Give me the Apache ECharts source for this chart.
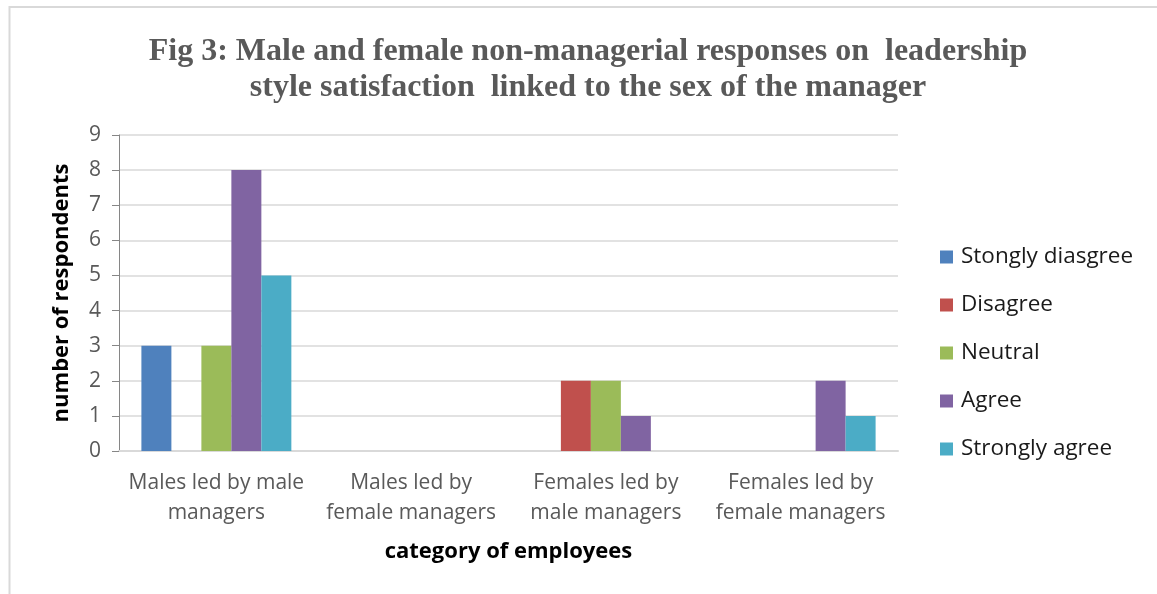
<!DOCTYPE html>
<html>
<head>
<meta charset="utf-8">
<script src="https://cdn.jsdelivr.net/npm/echarts@6/dist/echarts.min.js"></script>
<style>
  html, body { margin: 0; padding: 0; background: #fff; }
  #chart { width: 1157px; height: 594px; }
</style>
</head>
<body>
<div id="chart"></div>
<script>
// Employee groups along the x axis
const categories = [
  'Males led by male\nmanagers',
  'Males led by\nfemale managers',
  'Females led by\nmale managers',
  'Females led by\nfemale managers'
];

// Response counts per group
const stronglyDisagree = [3, 0, 0, 0];
const disagree = [0, 0, 2, 0];
const neutral = [3, 0, 2, 0];
const agree = [8, 0, 1, 2];
const stronglyAgree = [5, 0, 0, 1];

const seriesNames = ['Stongly diasgree', 'Disagree', 'Neutral', 'Agree', 'Strongly agree'];
const seriesData = [stronglyDisagree, disagree, neutral, agree, stronglyAgree];
const seriesColors = ['#4f81bd', '#c0504d', '#9bbb59', '#8064a2', '#4bacc6'];

const yTicks = { min: 0, max: 9, interval: 1 };

const chart = echarts.init(document.getElementById('chart'), null, { renderer: 'canvas' });

const uiFont = '"Open Sans", "Liberation Sans", sans-serif';

chart.setOption({
  animation: false,
  backgroundColor: '#ffffff',
  title: {
    text: 'Fig 3: Male and female non-managerial responses on  leadership\nstyle satisfaction  linked to the sex of the manager',
    left: 588,
    textAlign: 'center',
    top: 34,
    padding: 0,
    textStyle: {
      fontFamily: '"Liberation Serif", "Times New Roman", serif',
      fontWeight: 'bold',
      fontSize: 32,
      lineHeight: 36,
      color: '#595959'
    }
  },
  legend: {
    orient: 'vertical',
    left: 940,
    top: 245,
    padding: 0,
    itemWidth: 13,
    itemHeight: 13,
    itemGap: 24,
    icon: 'rect',
    data: seriesNames,
    textStyle: {
      fontFamily: uiFont,
      fontSize: 22.5,
      lineHeight: 24,
      color: '#1a1a1a',
      padding: [0, 0, 0, 3]
    }
  },
  grid: {
    left: 119,
    right: 259,
    top: 135,
    bottom: 143,
    containLabel: false
  },
  xAxis: {
    type: 'category',
    data: categories,
    name: 'category of employees',
    nameLocation: 'middle',
    nameGap: 90,
    nameTextStyle: {
      fontFamily: uiFont,
      fontWeight: 'bold',
      fontSize: 22,
      color: '#000000'
    },
    axisLine: { show: true, lineStyle: { color: '#d9d9d9', width: 2 } },
    axisTick: { show: false },
    axisLabel: {
      fontFamily: uiFont,
      fontSize: 21,
      lineHeight: 30,
      color: '#595959',
      margin: 17,
      interval: 0
    }
  },
  yAxis: {
    type: 'value',
    min: yTicks.min,
    max: yTicks.max,
    interval: yTicks.interval,
    name: 'number of respondents',
    nameLocation: 'middle',
    nameGap: 46,
    nameRotate: 90,
    nameTextStyle: {
      fontFamily: uiFont,
      fontWeight: 'bold',
      fontSize: 22,
      color: '#000000'
    },
    axisLine: { show: true, lineStyle: { color: '#868686', width: 1 } },
    axisTick: { show: true, length: 7, lineStyle: { color: '#868686' } },
    axisLabel: {
      fontFamily: uiFont,
      fontSize: 21,
      color: '#595959',
      margin: 18
    },
    splitLine: { show: true, lineStyle: { color: '#d9d9d9', width: 1.5 } }
  },
  series: seriesNames.map((name, i) => ({
    name: name,
    type: 'bar',
    data: seriesData[i],
    barGap: '0%',
    barCategoryGap: '23%',
    itemStyle: {
      color: seriesColors[i],
      borderWidth: 0
    }
  })),
  graphic: [
    {
      type: 'polyline',
      silent: true,
      shape: { points: [[9.5, 594], [9.5, 7], [1157, 7]] },
      style: { stroke: '#d9d9d9', lineWidth: 2, fill: null }
    }
  ]
});
</script>
</body>
</html>
